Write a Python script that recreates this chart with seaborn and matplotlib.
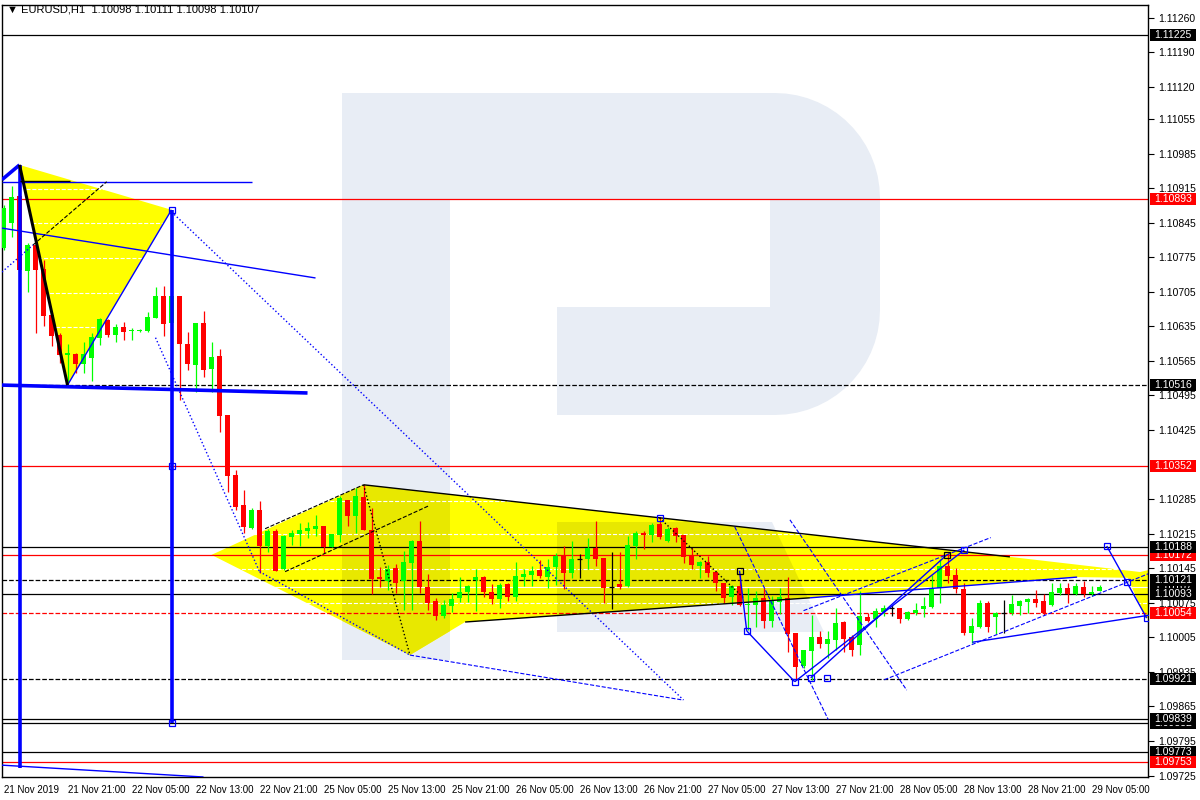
import numpy as np
import matplotlib
matplotlib.use("Agg")
import matplotlib.pyplot as plt
import matplotlib.patches as mpatches
from matplotlib.transforms import Affine2D, blended_transform_factory
import seaborn as sns

sns.set_theme(style="white")
plt.rcParams['font.family'] = ['Liberation Sans', 'DejaVu Sans']

# EURUSD H1 candles, bar 0 = 21 Nov 13:00
opens = [1.10794, 1.10845, 1.10899, 1.10747, 1.10800, 1.10751, 1.10658, 1.10618, 1.10577, 1.10579,
         1.10559, 1.10571, 1.10612, 1.10648, 1.10618, 1.10634, 1.10626, 1.10626, 1.10626, 1.10652,
         1.10697, 1.10642, 1.10697, 1.10599, 1.10557, 1.10642, 1.10549, 1.10575, 1.10456, 1.10334,
         1.10273, 1.10227, 1.10263, 1.10190, 1.10221, 1.10144, 1.10208, 1.10215, 1.10221, 1.10225,
         1.10231, 1.10188, 1.10213, 1.10283, 1.10251, 1.10289, 1.10223, 1.10127, 1.10119, 1.10146,
         1.10119, 1.10156, 1.10200, 1.10107, 1.10079, 1.10048, 1.10069, 1.10085, 1.10097, 1.10121,
         1.10127, 1.10097, 1.10083, 1.10113, 1.10087, 1.10127, 1.10131, 1.10142, 1.10127, 1.10148,
         1.10170, 1.10135, 1.10164, 1.10164, 1.10186, 1.10166, 1.10107, 1.10113, 1.10109, 1.10190,
         1.10217, 1.10213, 1.10235, 1.10200, 1.10227, 1.10213, 1.10172, 1.10150, 1.10158, 1.10138,
         1.10115, 1.10087, 1.10109, 1.10071, 1.10071, 1.10085, 1.10038, 1.10077, 1.10085, 1.10014,
         1.09947, 1.09977, 1.10006, 1.09992, 1.10000, 1.10036, 1.10006, 1.09990, 1.10046, 1.10042,
         1.10057, 1.10065, 1.10065, 1.10042, 1.10054, 1.10063, 1.10067, 1.10105, 1.10150, 1.10131,
         1.10103, 1.10014, 1.10026, 1.10075, 1.10046, 1.10054, 1.10054, 1.10069, 1.10077, 1.10083,
         1.10079, 1.10071, 1.10095, 1.10105, 1.10093, 1.10107, 1.10093, 1.10098]
highs = [1.10881, 1.10920, 1.10962, 1.10804, 1.10806, 1.10770, 1.10662, 1.10622, 1.10599, 1.10581,
         1.10604, 1.10622, 1.10652, 1.10650, 1.10640, 1.10644, 1.10632, 1.10630, 1.10664, 1.10715,
         1.10717, 1.10709, 1.10697, 1.10624, 1.10642, 1.10666, 1.10604, 1.10589, 1.10456, 1.10344,
         1.10304, 1.10267, 1.10281, 1.10225, 1.10225, 1.10213, 1.10223, 1.10237, 1.10239, 1.10253,
         1.10231, 1.10215, 1.10291, 1.10283, 1.10308, 1.10314, 1.10267, 1.10148, 1.10152, 1.10154,
         1.10180, 1.10202, 1.10241, 1.10133, 1.10085, 1.10081, 1.10095, 1.10127, 1.10111, 1.10144,
         1.10129, 1.10113, 1.10115, 1.10115, 1.10158, 1.10144, 1.10150, 1.10162, 1.10164, 1.10176,
         1.10190, 1.10200, 1.10174, 1.10206, 1.10241, 1.10166, 1.10178, 1.10178, 1.10210, 1.10221,
         1.10221, 1.10237, 1.10249, 1.10229, 1.10229, 1.10213, 1.10186, 1.10160, 1.10170, 1.10140,
         1.10115, 1.10111, 1.10133, 1.10105, 1.10099, 1.10105, 1.10089, 1.10105, 1.10127, 1.10014,
         1.09979, 1.10050, 1.10018, 1.10018, 1.10065, 1.10038, 1.10010, 1.10099, 1.10054, 1.10065,
         1.10071, 1.10071, 1.10065, 1.10059, 1.10075, 1.10087, 1.10131, 1.10164, 1.10176, 1.10146,
         1.10115, 1.10044, 1.10081, 1.10079, 1.10056, 1.10081, 1.10091, 1.10081, 1.10085, 1.10101,
         1.10093, 1.10115, 1.10115, 1.10115, 1.10115, 1.10119, 1.10109, 1.10111]
lows = [1.10790, 1.10816, 1.10743, 1.10705, 1.10622, 1.10636, 1.10595, 1.10561, 1.10523, 1.10541,
        1.10541, 1.10525, 1.10597, 1.10614, 1.10604, 1.10608, 1.10608, 1.10624, 1.10624, 1.10652,
        1.10616, 1.10577, 1.10486, 1.10547, 1.10502, 1.10533, 1.10502, 1.10421, 1.10300, 1.10263,
        1.10217, 1.10225, 1.10135, 1.10178, 1.10140, 1.10142, 1.10192, 1.10190, 1.10206, 1.10210,
        1.10176, 1.10188, 1.10198, 1.10231, 1.10217, 1.10223, 1.10093, 1.10107, 1.10101, 1.10095,
        1.10061, 1.10061, 1.10095, 1.10061, 1.10040, 1.10044, 1.10057, 1.10077, 1.10077, 1.10059,
        1.10087, 1.10073, 1.10065, 1.10079, 1.10079, 1.10109, 1.10109, 1.10125, 1.10105, 1.10111,
        1.10103, 1.10125, 1.10125, 1.10144, 1.10150, 1.10075, 1.10063, 1.10103, 1.10107, 1.10164,
        1.10184, 1.10198, 1.10204, 1.10198, 1.10198, 1.10156, 1.10144, 1.10125, 1.10127, 1.10099,
        1.10075, 1.10071, 1.10069, 1.10020, 1.10026, 1.10024, 1.10026, 1.10052, 1.09975, 1.09919,
        1.09943, 1.09919, 1.09984, 1.09963, 1.09979, 1.09975, 1.09967, 1.09969, 1.10036, 1.10026,
        1.10048, 1.10048, 1.10034, 1.10040, 1.10050, 1.10046, 1.10065, 1.10075, 1.10115, 1.10095,
        1.10010, 1.09994, 1.10024, 1.10016, 1.10012, 1.10014, 1.10050, 1.10050, 1.10054, 1.10067,
        1.10050, 1.10069, 1.10091, 1.10075, 1.10091, 1.10087, 1.10089, 1.10098]
closes = [1.10875, 1.10897, 1.10749, 1.10800, 1.10749, 1.10656, 1.10616, 1.10577, 1.10581, 1.10559,
          1.10579, 1.10614, 1.10650, 1.10618, 1.10634, 1.10624, 1.10628, 1.10628, 1.10654, 1.10697,
          1.10640, 1.10697, 1.10599, 1.10559, 1.10642, 1.10547, 1.10573, 1.10454, 1.10332, 1.10269,
          1.10229, 1.10263, 1.10190, 1.10221, 1.10140, 1.10210, 1.10217, 1.10223, 1.10227, 1.10231,
          1.10188, 1.10215, 1.10287, 1.10251, 1.10291, 1.10223, 1.10123, 1.10123, 1.10144, 1.10115,
          1.10158, 1.10200, 1.10107, 1.10075, 1.10048, 1.10071, 1.10083, 1.10097, 1.10109, 1.10127,
          1.10097, 1.10083, 1.10111, 1.10087, 1.10129, 1.10133, 1.10140, 1.10129, 1.10148, 1.10170,
          1.10135, 1.10164, 1.10164, 1.10186, 1.10164, 1.10105, 1.10107, 1.10107, 1.10192, 1.10217,
          1.10213, 1.10233, 1.10208, 1.10225, 1.10210, 1.10168, 1.10152, 1.10158, 1.10135, 1.10115,
          1.10085, 1.10109, 1.10071, 1.10073, 1.10085, 1.10038, 1.10079, 1.10087, 1.10012, 1.09945,
          1.09979, 1.10006, 1.09992, 1.10002, 1.10034, 1.10002, 1.09979, 1.10048, 1.10038, 1.10059,
          1.10065, 1.10065, 1.10042, 1.10057, 1.10061, 1.10069, 1.10105, 1.10150, 1.10129, 1.10103,
          1.10014, 1.10028, 1.10075, 1.10026, 1.10054, 1.10054, 1.10073, 1.10079, 1.10083, 1.10075,
          1.10054, 1.10097, 1.10105, 1.10093, 1.10109, 1.10093, 1.10097, 1.10107]

x_tick_pos = list(range(0, 137, 8))
x_tick_labels = ["21 Nov 2019", "21 Nov 21:00", "22 Nov 05:00", "22 Nov 13:00", "22 Nov 21:00",
                 "25 Nov 05:00", "25 Nov 13:00", "25 Nov 21:00", "26 Nov 05:00", "26 Nov 13:00",
                 "26 Nov 21:00", "27 Nov 05:00", "27 Nov 13:00", "27 Nov 21:00", "28 Nov 05:00",
                 "28 Nov 13:00", "28 Nov 21:00", "29 Nov 05:00"]
y_ticks = [1.11260, 1.11190, 1.11120, 1.11055, 1.10985, 1.10915, 1.10845, 1.10775, 1.10705,
           1.10635, 1.10565, 1.10495, 1.10425, 1.10285, 1.10215, 1.10145, 1.10075, 1.10005,
           1.09935, 1.09865, 1.09795, 1.09725]

# horizontal levels: price, colour, style
levels = [(1.11225, 'black', '-'), (1.10893, 'red', '-'), (1.10516, 'black', '--'),
          (1.10352, 'red', '-'), (1.10188, 'black', '-'), (1.10172, 'red', '-'),
          (1.10121, 'black', '--'), (1.10093, 'black', '-'), (1.10054, 'red', '--'),
          (1.09921, 'black', '--'), (1.09839, 'black', '-'), (1.09832, 'black', '-'),
          (1.09773, 'black', '-'), (1.09753, 'red', '-')]
# right-hand price tags, drawn in this order (later ones on top)
tags = [(1.11225, 'black'), (1.10893, 'red'), (1.10516, 'black'), (1.10352, 'red'),
        (1.10107, 'black'), (1.10172, 'red'), (1.10188, 'black'), (1.10121, 'black'),
        (1.10093, 'black'), (1.10054, 'red'), (1.09921, 'black'), (1.09832, 'black'),
        (1.09839, 'black'), (1.09773, 'black'), (1.09753, 'red')]

# chart objects anchored at (bar, price)
tri_1 = [(2, 1.10962), (21, 1.10871), (8, 1.10516)]
tri_2 = [(26, 1.10172), (45, 1.10314), (125.8, 1.10168), (143.3, 1.10135), (143.3, 1.10125),
         (134.2, 1.10127), (100.8, 1.10085), (57.7, 1.10036), (50.8, 1.09969)]
tri_3 = [(140.4, 1.10131), (143.3, 1.10142), (143.3, 1.10044), (142.7, 1.10044)]
fibo_1 = [1.10914, 1.10845, 1.10774, 1.10703, 1.10634]
fibo_2 = [1.10281, 1.10215, 1.10144, 1.10075]

# segments: x0, p0, x1, p1, colour, style, width
segments = [
    (-0.2, 1.10516, 38, 1.10500, 'blue', '-', 2.6),
    (2, 1.10962, 2, 1.09740, 'blue', '-', 2.6),
    (21, 1.10871, 21, 1.09832, 'blue', '-', 2.6),
    (-0.2, 1.10932, 2, 1.10962, 'blue', '-', 2.6),
    (-0.2, 1.10928, 31, 1.10928, 'blue', '-', 1.0),
    (2, 1.10930, 8.3, 1.10930, 'black', '-', 1.0),
    (-0.2, 1.10834, 39, 1.10733, 'blue', '-', 1.0),
    (8, 1.10516, 21, 1.10871, 'blue', '-', 1.0),
    (-0.2, 1.09746, 25, 1.09722, 'blue', '-', 1.0),
    (2, 1.10962, 8, 1.10516, 'black', '-', 2.2),
    (21, 1.10867, 85, 1.09878, 'blue', ':', 1.0),
    (19, 1.10612, 32, 1.10138, 'blue', ':', 1.0),
    (32, 1.10138, 50.8, 1.09969, 'blue', ':', 1.0),
    (-0.2, 1.10745, 3.7, 1.10800, 'blue', ':', 1.0),
    (50.8, 1.09969, 84.9, 1.09878, 'blue', '--', 0.8),
    (3.7, 1.10800, 12.9, 1.10928, 'black', '--', 0.8),
    (32.7, 1.10225, 45, 1.10314, 'black', '--', 0.8),
    (35.2, 1.10138, 53.1, 1.10271, 'black', '--', 0.8),
    (45, 1.10314, 50.8, 1.09969, 'black', ':', 1.0),
    (82, 1.10247, 92.5, 1.10085, 'black', ':', 1.0),
    (45, 1.10314, 125.8, 1.10168, 'black', '-', 1.0),
    (57.7, 1.10036, 100.8, 1.10085, 'black', '-', 1.0),
    (100.8, 1.10085, 134.2, 1.10127, 'blue', '-', 1.0),
    (92, 1.10140, 92.9, 1.10018, 'blue', '-', 1.0),
    (92.9, 1.10018, 98.9, 1.09915, 'blue', '-', 1.0),
    (98.9, 1.09915, 120.1, 1.10182, 'blue', '-', 1.0),
    (100.9, 1.09923, 117.9, 1.10172, 'blue', '-', 1.0),
    (137.9, 1.10190, 140.4, 1.10117, 'blue', '-', 1.0),
    (140.4, 1.10117, 142.9, 1.10044, 'blue', '-', 1.0),
    (100, 1.10059, 123.4, 1.10207, 'blue', '--', 0.8),
    (110.1, 1.09919, 143.3, 1.10135, 'blue', '--', 0.8),
    (91.4, 1.10229, 103.1, 1.09838, 'blue', '--', 0.8),
    (98.3, 1.10243, 112.9, 1.09898, 'blue', '--', 0.8),
    (121.1, 1.09995, 143.3, 1.10050, 'blue', '-', 1.0),
]
blue_marks = [(21, 1.10871), (21, 1.10352), (21, 1.09832), (82, 1.10247), (92.9, 1.10018),
              (98.9, 1.09915), (100.9, 1.09923), (102.9, 1.09923), (120.1, 1.10182),
              (137.9, 1.10190), (140.4, 1.10117), (142.9, 1.10044)]
black_marks = [(92, 1.10140), (117.9, 1.10172)]

fig = plt.figure(figsize=(12, 8), dpi=100)
fig.patch.set_facecolor('white')
ax = fig.add_axes([2 / 1200, 23 / 800, 1146 / 1200, 772 / 800])
ax.set_facecolor('white')
ax.set_xlim(-0.19, 143.06)
ax.set_ylim(1.09722, 1.11286)

# watermark logo, in screen pixels
px = Affine2D().scale(1 / 1200, -1 / 800).translate(0, 1) + fig.transFigure


def arc(cx, cy, r, a0, a1):
    t = np.radians(np.linspace(a0, a1, 16))
    return list(zip(cx + r * np.cos(t), cy - r * np.sin(t)))


logo_r = ([(342, 93), (775, 93)] + arc(775, 198, 105, 90, 0) + arc(775, 310, 105, 0, -90)
          + [(557, 415), (557, 307), (770, 307), (770, 200), (450, 200), (450, 660), (342, 660)])
logo_leg = [(557, 522), (772, 522), (824, 632), (557, 632)]
logo_col = '#e8edf5'

yellow = []
for pts in (tri_1, tri_2, tri_3):
    p = mpatches.Polygon(pts, closed=True, facecolor='#ffff00', edgecolor='none', zorder=1)
    ax.add_patch(p)
    yellow.append(p)

for shape in (logo_r, logo_leg):
    ax.add_patch(mpatches.Polygon(shape, closed=True, transform=px, facecolor=logo_col,
                                  edgecolor='none', zorder=0.5))
    for yp in yellow:
        dark = mpatches.Polygon(shape, closed=True, transform=px, facecolor='#e8e800',
                                edgecolor='none', zorder=1.1)
        ax.add_patch(dark)
        dark.set_clip_path(yp)

for lv in fibo_1:
    ax.hlines(lv, 2, 21, colors='white', linestyles='--', lw=0.8, zorder=1.5)
for lv in fibo_2:
    ax.hlines(lv, 26, 143.3, colors='white', linestyles='--', lw=0.8, zorder=1.5)
ax.hlines(1.10107, 26, 143.3, colors='white', lw=0.8, zorder=1.5)

for price, col, ls in levels:
    ax.axhline(price, color=col, ls=ls, lw=0.9, zorder=2)

# candles
o = np.array(opens)
c = np.array(closes)
idx = np.arange(len(o))
col = np.where(c > o, '#00ff00', np.where(c < o, '#ff0000', '#000000'))
ax.vlines(idx, lows, highs, colors=col, lw=0.9, zorder=3)
body = c != o
ax.bar(idx[body], np.abs(c - o)[body], bottom=np.minimum(o, c)[body], width=0.62,
       color=col[body], linewidth=0, zorder=3.1)
ax.hlines(o[~body], idx[~body] - 0.31, idx[~body] + 0.31, colors='black', lw=0.9, zorder=3.1)

for x0, p0, x1, p1, colr, ls, lw in segments:
    ax.plot([x0, x1], [p0, p1], color=colr, ls=ls, lw=lw, zorder=4, solid_capstyle='butt')
bx, by = zip(*blue_marks)
ax.plot(bx, by, ls='none', marker='s', ms=4, mfc='none', mec='blue', mew=0.9, zorder=5)
kx, ky = zip(*black_marks)
ax.plot(kx, ky, ls='none', marker='s', ms=4, mfc='none', mec='black', mew=0.9, zorder=5)

# axes styling
for s in ax.spines.values():
    s.set_color('black')
    s.set_linewidth(1)
ax.yaxis.tick_right()
ax.set_yticks(y_ticks)
ax.set_yticklabels([f"{v:.5f}" for v in y_ticks])
ax.set_xticks(x_tick_pos)
ax.set_xticklabels(x_tick_labels, ha='left')
ax.tick_params(axis='y', length=4, width=0.8, direction='out', labelsize=7.5, pad=3, colors='black')
ax.tick_params(axis='x', length=4, width=0.8, direction='out', labelsize=7, pad=2, colors='black')
ax.grid(False)

# price tags: 46 px wide, 12 px tall boxes right of the frame
tr = blended_transform_factory(ax.transAxes, ax.transData)
box_w = 46 / 1146
box_h = 12 * (1.11286 - 1.09722) / 772
z = 10
for price, colr in tags:
    ax.add_patch(mpatches.Rectangle((2 / 1146 + 1.0, price - box_h / 2), box_w, box_h,
                                    transform=tr, facecolor=colr, edgecolor='none',
                                    clip_on=False, zorder=z))
    ax.text(1.0 + 25 / 1146, price, f"{price:.5f}", transform=tr, fontsize=7.5, color='white',
            va='center', ha='center', clip_on=False, zorder=z + 0.5)
    z += 1

fig.text(7 / 1200, 1 - 10 / 800, "\u25bc EURUSD,H1  1.10098 1.10111 1.10098 1.10107",
         fontsize=8, va='center', ha='left', color='black')

fig.savefig('out.png', dpi=100)
